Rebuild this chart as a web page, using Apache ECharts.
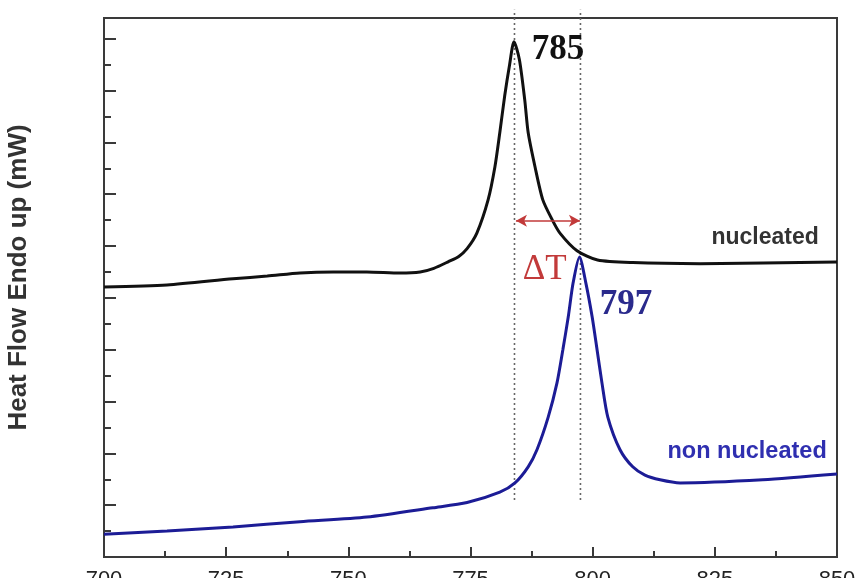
<!DOCTYPE html>
<html>
<head>
<meta charset="utf-8">
<script src="https://cdn.jsdelivr.net/npm/echarts@6/dist/echarts.min.js"></script>
<style>
  html, body { margin: 0; padding: 0; background: #fff; }
  #dsc { width: 855px; height: 578px; }
</style>
</head>
<body>
<div id="dsc"></div>
<script>
// temperature (x) and heat flow (arbitrary units)
var nucleatedT = [700, 712.9, 726.4, 733.4, 740.1, 746.9, 753.8, 760.6, 764.7, 767.5, 770.5, 772.6, 774.3, 776.3, 778.6, 780.0, 781.0, 782.0, 783.0, 783.9, 785.0, 786.1, 786.8, 788.2, 789.8, 791.7, 793.3, 796.8, 801.0, 808.2, 822.0, 850];
var nucleatedHF = [5.21, 5.25, 5.37, 5.42, 5.48, 5.50, 5.50, 5.48, 5.50, 5.57, 5.70, 5.80, 5.95, 6.25, 6.89, 7.53, 8.19, 8.90, 9.50, 9.94, 9.60, 8.82, 8.19, 7.53, 6.89, 6.51, 6.25, 5.91, 5.73, 5.68, 5.66, 5.69];

var nonNucT = [700, 712.9, 726.4, 740.1, 753.8, 767.3, 774.3, 781.0, 784.1, 786.8, 788.6, 790.9, 792.7, 793.9, 795.0, 796.0, 797.3, 798.6, 799.9, 800.9, 801.9, 803.1, 805.6, 808.2, 810.7, 813.8, 817.9, 834.8, 850];
var nonNucHF = [0.44, 0.50, 0.58, 0.68, 0.77, 0.95, 1.05, 1.25, 1.43, 1.74, 2.07, 2.70, 3.36, 4.00, 4.63, 5.29, 5.79, 5.29, 4.63, 4.00, 3.36, 2.70, 2.07, 1.74, 1.58, 1.49, 1.43, 1.49, 1.60];

// peak markers (dotted lines) and the delta-T arrow
var peakLines = [784, 797.5];
var dottedSpan = [1.1, 10.56];
var arrowFrom = [784.3, 6.49];
var arrowTo = [797.4, 6.49];

function pairs(xs, ys) {
  return xs.map(function (x, i) { return [x, ys[i]]; });
}

var myChart = echarts.init(document.getElementById('dsc'));

var serif = '"Liberation Serif", "DejaVu Serif", serif';
var sans = '"Liberation Sans", Arial, sans-serif';

var dotted = peakLines.map(function (t) {
  return {
    type: 'line',
    data: [[t, dottedSpan[0]], [t, dottedSpan[1]]],
    symbol: 'none',
    clip: false,
    silent: true,
    z: 1,
    lineStyle: { color: '#666', width: 1.6, type: [2, 3] }
  };
});

var option = {
  animation: false,
  grid: {
    left: 104, right: 18, top: 18, bottom: 21,
    containLabel: false,
    outerBoundsMode: 'none',
    show: true, borderColor: '#3a3a3a', borderWidth: 2
  },
  xAxis: {
    type: 'value',
    min: 700, max: 850, interval: 25,
    axisLine: { show: true, lineStyle: { color: '#3a3a3a', width: 2 } },
    axisTick: { inside: true, length: 10, lineStyle: { color: '#3a3a3a', width: 2 } },
    minorTick: { show: true, splitNumber: 2, length: 6, lineStyle: { color: '#3a3a3a', width: 2 } },
    axisLabel: { margin: 12, color: '#222', fontSize: 22, fontFamily: sans },
    splitLine: { show: false }
  },
  yAxis: {
    type: 'value',
    min: 0, max: 10.4, interval: 1,
    name: 'Heat Flow Endo up (mW)',
    nameLocation: 'middle',
    nameGap: 72,
    nameTextStyle: { fontSize: 26, fontWeight: 'bold', color: '#333', fontFamily: sans, padding: [0, 0, 0, 20] },
    axisLine: { show: true, lineStyle: { color: '#3a3a3a', width: 2 } },
    axisTick: { inside: true, length: 12, lineStyle: { color: '#3a3a3a', width: 2 } },
    minorTick: { show: true, splitNumber: 2, length: 7, lineStyle: { color: '#3a3a3a', width: 2 } },
    axisLabel: { show: false },
    splitLine: { show: false }
  },
  series: dotted.concat([
    {
      name: 'nucleated',
      type: 'line',
      data: pairs(nucleatedT, nucleatedHF),
      smooth: 0.25,
      symbol: 'none',
      z: 3,
      lineStyle: { color: '#111', width: 3 },
      markPoint: {
        symbolSize: 0,
        silent: true,
        data: [
          { coord: [792.9, 9.79], label: { show: true, position: 'inside', formatter: '785', fontFamily: serif, fontWeight: 'bold', fontSize: 35, color: '#111' } },
          { coord: [835.3, 6.16], label: { show: true, position: 'inside', formatter: 'nucleated', fontFamily: sans, fontWeight: 'bold', fontSize: 23, color: '#333' } }
        ]
      },
      markLine: {
        silent: true,
        symbol: ['arrow', 'arrow'],
        symbolSize: [9, 11],
        label: { show: false },
        lineStyle: { color: '#c23a3a', width: 1.6, type: 'solid' },
        data: [[{ coord: arrowFrom }, { coord: arrowTo }]]
      }
    },
    {
      name: 'non nucleated',
      type: 'line',
      data: pairs(nonNucT, nonNucHF),
      smooth: 0.25,
      symbol: 'none',
      z: 4,
      lineStyle: { color: '#1c1c96', width: 3 },
      markPoint: {
        symbolSize: 0,
        silent: true,
        data: [
          { coord: [806.8, 4.86], label: { show: true, position: 'inside', formatter: '797', fontFamily: serif, fontWeight: 'bold', fontSize: 35, color: '#2a2a8c' } },
          { coord: [790.2, 5.54], label: { show: true, position: 'inside', formatter: 'ΔT', fontFamily: serif, fontSize: 35, color: '#c23a3a' } },
          { coord: [831.6, 2.03], label: { show: true, position: 'inside', formatter: 'non nucleated', fontFamily: sans, fontWeight: 'bold', fontSize: 23.5, color: '#2f2fb0' } }
        ]
      }
    }
  ])
};

myChart.setOption(option);
</script>
</body>
</html>
